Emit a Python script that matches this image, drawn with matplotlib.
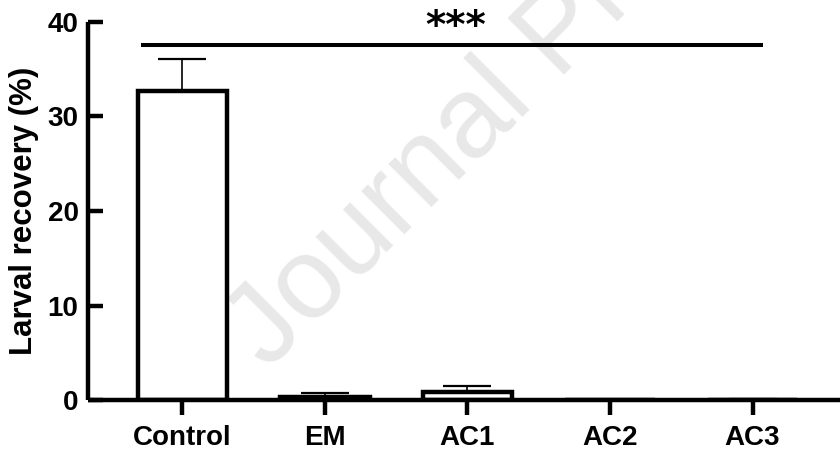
import matplotlib
matplotlib.use("Agg")
import matplotlib.pyplot as plt

# data
groups = ["Control", "EM", "AC1", "AC2", "AC3"]
means = [32.7, 0.35, 0.9, 0.0, 0.05]
sds = [3.4, 0.4, 0.65, 0.0, 0.15]
sig_label = "***"
sig_height = 37.55

plt.rcParams['font.family'] = ['Liberation Sans', 'DejaVu Sans']
plt.rcParams['font.weight'] = 'bold'

fig = plt.figure(figsize=(8.4, 4.53), dpi=100)
ax = fig.add_axes([0.1051, 0.1159, 0.8949, 0.8361])

lw = 3.2
x = list(range(len(groups)))

# watermark, behind the marks
ax.text(0.319, 0.181, "Journal Pre-proof", rotation=45, rotation_mode='anchor',
        ha='left', va='baseline', fontsize=83, fontweight='normal',
        color='#e8e8e8', zorder=0.5, transform=fig.transFigure, clip_on=False)

ax.bar(x, means, width=0.63, color='white', edgecolor='black', linewidth=lw, zorder=2)
ax.errorbar(x, means, yerr=[[0] * len(sds), sds], fmt='none', ecolor='black',
            elinewidth=1.2, capsize=17, capthick=1.6, zorder=1)

ax.plot([-0.291, 4.074], [sig_height, sig_height], color='black', lw=2.9,
        solid_capstyle='butt', clip_on=False, zorder=3)
ax.text(1.92, sig_height + 0.75, sig_label, ha='center', va='baseline',
        fontsize=28, fontweight='bold', family='DejaVu Sans', zorder=3)

ax.set_xlim(-0.661, 4.614)
ax.set_ylim(0, 40)
ax.set_yticks([0, 10, 20, 30, 40])
ax.set_xticks(x)
ax.set_xticklabels(groups)
ax.set_ylabel("Larval recovery (%)", fontsize=22.5, fontweight='bold', labelpad=6)

for s in ['top', 'right']:
    ax.spines[s].set_visible(False)
for s in ['left', 'bottom']:
    ax.spines[s].set_linewidth(lw)
    ax.spines[s].set_capstyle('butt')
    ax.spines[s].set_zorder(4)
ax.patch.set_alpha(0)

ax.tick_params(axis='y', direction='in', length=11, width=lw, labelsize=20, pad=7)
ax.tick_params(axis='x', direction='out', length=11, width=lw, labelsize=20, pad=7)

fig.savefig("out.png", dpi=100)
